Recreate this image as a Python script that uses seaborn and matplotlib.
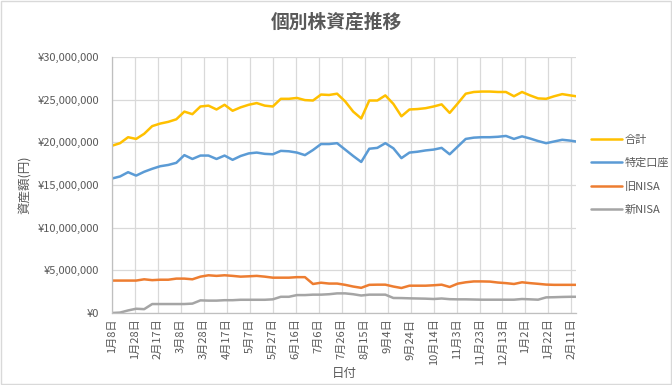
import numpy as np
import pandas as pd
import matplotlib
matplotlib.use("Agg")
import matplotlib.pyplot as plt
import matplotlib.ticker as mticker
import matplotlib.dates as mdates
from matplotlib.patches import Rectangle
import seaborn as sns

# weekly snapshots (last one a few days after the regular week)
dates = list(pd.date_range("2024-01-08", periods=58, freq="7D")) + [pd.Timestamp("2025-02-15")]

# values in millions of yen
total = [19.6, 19.9, 20.6, 20.4, 21.0, 21.9, 22.2, 22.4, 22.7, 23.6,
         23.3, 24.2, 24.3, 23.85, 24.4, 23.7, 24.1, 24.4, 24.6, 24.3,
         24.2, 25.1, 25.1, 25.2, 24.95, 24.9, 25.6, 25.55, 25.7, 24.8,
         23.6, 22.8, 24.9, 24.9, 25.5, 24.5, 23.05, 23.85, 23.9, 24.0,
         24.2, 24.45, 23.45, 24.55, 25.7, 25.9, 25.95, 25.95, 25.9, 25.9,
         25.4, 25.9, 25.5, 25.15, 25.1, 25.4, 25.65, 25.5, 25.4]
tokutei = [15.76, 16.0, 16.5, 16.1, 16.55, 16.9, 17.2, 17.35, 17.6, 18.5,
           18.05, 18.45, 18.45, 18.05, 18.45, 17.95, 18.4, 18.7, 18.8, 18.65,
           18.6, 19.0, 18.95, 18.8, 18.5, 19.1, 19.8, 19.8, 19.9, 19.15,
           18.4, 17.7, 19.25, 19.35, 19.9, 19.3, 18.15, 18.8, 18.9, 19.05,
           19.15, 19.35, 18.6, 19.5, 20.4, 20.55, 20.6, 20.6, 20.65, 20.75,
           20.4, 20.7, 20.45, 20.15, 19.9, 20.1, 20.3, 20.2, 20.1]
old_nisa = [3.8, 3.8, 3.8, 3.8, 3.95, 3.85, 3.9, 3.9, 4.03, 4.03,
            3.95, 4.26, 4.42, 4.35, 4.42, 4.35, 4.26, 4.3, 4.35, 4.26,
            4.14, 4.14, 4.14, 4.2, 4.2, 3.4, 3.55, 3.45, 3.45, 3.3,
            3.1, 2.95, 3.3, 3.32, 3.32, 3.1, 2.93, 3.2, 3.2, 3.2,
            3.25, 3.32, 3.05, 3.44, 3.6, 3.7, 3.7, 3.68, 3.57, 3.5,
            3.4, 3.6, 3.5, 3.42, 3.33, 3.3, 3.3, 3.3, 3.3]
new_nisa = [0.0, 0.05, 0.3, 0.5, 0.45, 1.05, 1.05, 1.05, 1.05, 1.05,
            1.1, 1.48, 1.45, 1.45, 1.5, 1.5, 1.55, 1.55, 1.55, 1.55,
            1.6, 1.9, 1.9, 2.1, 2.1, 2.15, 2.15, 2.2, 2.3, 2.3,
            2.2, 2.05, 2.15, 2.15, 2.15, 1.76, 1.75, 1.72, 1.7, 1.68,
            1.64, 1.7, 1.62, 1.6, 1.6, 1.58, 1.56, 1.56, 1.56, 1.56,
            1.56, 1.64, 1.6, 1.56, 1.83, 1.85, 1.88, 1.9, 1.9]

series_names = ["合計", "特定口座", "旧NISA", "新NISA"]
colors = ["#FFC000", "#5B9BD5", "#ED7D31", "#A5A5A5"]

df = pd.DataFrame({"日付": dates, "合計": total, "特定口座": tokutei,
                   "旧NISA": old_nisa, "新NISA": new_nisa})
long = df.melt(id_vars="日付", var_name="系列", value_name="金額")
long["金額"] = long["金額"] * 1_000_000

sns.set_style("white")
plt.rcParams["font.family"] = ["Noto Sans CJK JP", "DejaVu Sans"]

fig = plt.figure(figsize=(6.72, 3.85), dpi=100)
ax = fig.add_axes([112 / 672, 1 - 313 / 385, 464 / 672, 256 / 385])

sns.lineplot(data=long, x="日付", y="金額", hue="系列", hue_order=series_names,
             palette=colors, linewidth=1.8, ax=ax)

grey_txt = "#595959"
ax.set_ylim(0, 30_000_000)
ax.yaxis.set_major_locator(mticker.MultipleLocator(5_000_000))
ax.yaxis.set_major_formatter(mticker.FuncFormatter(lambda v, p: f"¥{v:,.0f}"))

ax.set_xlim(dates[0], dates[-1])
ticks = pd.date_range("2024-01-08", "2025-02-11", freq="20D")
ax.xaxis.set_major_locator(mticker.FixedLocator(mdates.date2num(ticks)))
ax.xaxis.set_major_formatter(mticker.FuncFormatter(
    lambda v, p: f"{mdates.num2date(v).month}月{mdates.num2date(v).day}日"))
plt.setp(ax.get_xticklabels(), rotation=90)

ax.grid(True, color="#d9d9d9", linewidth=0.9)
for side in ["top", "right"]:
    ax.spines[side].set_visible(False)
for side in ["left", "bottom"]:
    ax.spines[side].set_color("#bfbfbf")
    ax.spines[side].set_linewidth(0.9)
ax.tick_params(axis="both", labelsize=8, colors=grey_txt, length=0)
ax.tick_params(axis="y", pad=9)
ax.tick_params(axis="x", pad=4)

ax.set_xlabel("日付", fontsize=9, color=grey_txt, labelpad=1)
ax.set_ylabel("資産額(円)", fontsize=9, color=grey_txt, labelpad=4)
fig.text(0.5, 1 - 22 / 385, "個別株資産推移", ha="center", va="center",
         fontsize=13.5, fontweight="bold", color=grey_txt)

leg = ax.legend(loc="center left", bbox_to_anchor=(1.01, 0.54), frameon=False,
                fontsize=8, handlelength=2.8, labelspacing=1.2, handletextpad=0.3)
for t in leg.get_texts():
    t.set_color(grey_txt)

fig.add_artist(Rectangle((0.001, 0.002), 0.997, 0.996, transform=fig.transFigure,
                         fill=False, edgecolor="#d9d9d9", linewidth=1))

fig.savefig("out.png", dpi=100)
